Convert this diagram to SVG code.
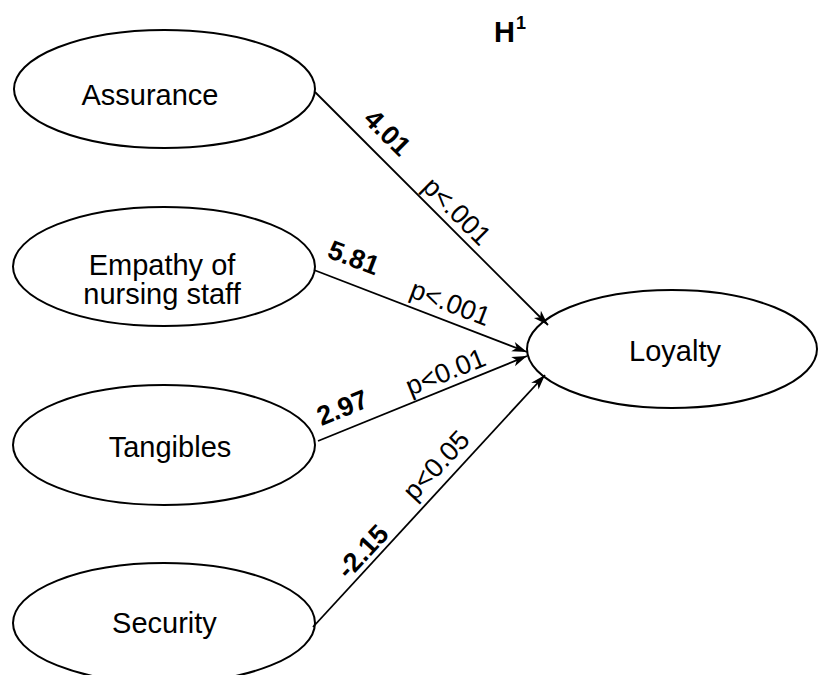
<svg xmlns="http://www.w3.org/2000/svg" width="818" height="675" viewBox="0 0 818 675">
  <defs>
    <marker id="arrow" markerUnits="userSpaceOnUse" markerWidth="20" markerHeight="14" viewBox="-16 -7 18 14" refX="0" refY="0" orient="auto">
      <path d="M0,0 L-15,-5 L-11,0 L-15,5 Z" fill="#000"/>
    </marker>
  </defs>
  <style>
    .node ellipse { fill: #fff; stroke: #000; stroke-width: 2; }
    .node text { font-family: "Liberation Sans", Arial, sans-serif; font-size: 29px; fill: #000; text-anchor: middle; }
    .edges line { stroke: #000; stroke-width: 1.8; marker-end: url(#arrow); }
    .coef { font-family: "Liberation Sans", Arial, sans-serif; font-size: 27px; font-weight: bold; text-anchor: middle; }
    .pval { font-family: "Liberation Sans", Arial, sans-serif; font-size: 27px; text-anchor: middle; }
    .title { font-family: "Liberation Sans", Arial, sans-serif; font-weight: bold; }
  </style>
  <rect width="818" height="675" fill="#fff"/>

  <!-- hypothesis heading -->
  <g id="heading">
    <text class="title" x="494" y="42" font-size="29">H</text>
    <text class="title" x="516" y="29" font-size="18">1</text>
  </g>

  <!-- constructs -->
  <g id="assurance" class="node">
    <ellipse cx="164.5" cy="89" rx="150.5" ry="59"/>
    <text x="150" y="105">Assurance</text>
  </g>
  <g id="empathy" class="node">
    <ellipse cx="164" cy="266.5" rx="151" ry="59.5"/>
    <text x="162" y="275">Empathy of</text>
    <text x="162" y="304">nursing staff</text>
  </g>
  <g id="tangibles" class="node">
    <ellipse cx="164" cy="445" rx="151" ry="60"/>
    <text x="170" y="457">Tangibles</text>
  </g>
  <g id="security" class="node">
    <ellipse cx="164" cy="623" rx="151" ry="60"/>
    <text x="164.5" y="633">Security</text>
  </g>
  <g id="loyalty" class="node">
    <ellipse cx="672" cy="349" rx="145" ry="59"/>
    <text x="675" y="361">Loyalty</text>
  </g>

  <!-- paths into Loyalty -->
  <g id="connectors" class="edges">
    <line x1="315" y1="92" x2="548" y2="325"/>
    <line x1="314" y1="270" x2="527" y2="352"/>
    <line x1="318" y1="441" x2="527" y2="356"/>
    <line x1="313" y1="627" x2="545" y2="375"/>
  </g>

  <!-- path coefficients and significance -->
  <g id="labels">
    <text class="coef" transform="translate(388 132) rotate(45)" y="10">4.01</text>
    <text class="pval" transform="translate(456 212) rotate(45)" y="8">p&lt;.001</text>
    <text class="coef" transform="translate(354 257) rotate(21)" y="10">5.81</text>
    <text class="pval" transform="translate(450 304) rotate(21)" y="8">p&lt;.001</text>
    <text class="coef" transform="translate(342 407) rotate(-22)" y="10">2.97</text>
    <text class="pval" transform="translate(446 373) rotate(-22)" y="8">p&lt;0.01</text>
    <text class="coef" transform="translate(362 551) rotate(-47)" y="10">-2.15</text>
    <text class="pval" transform="translate(437 466) rotate(-47)" y="8">p&lt;0.05</text>
  </g>
</svg>
